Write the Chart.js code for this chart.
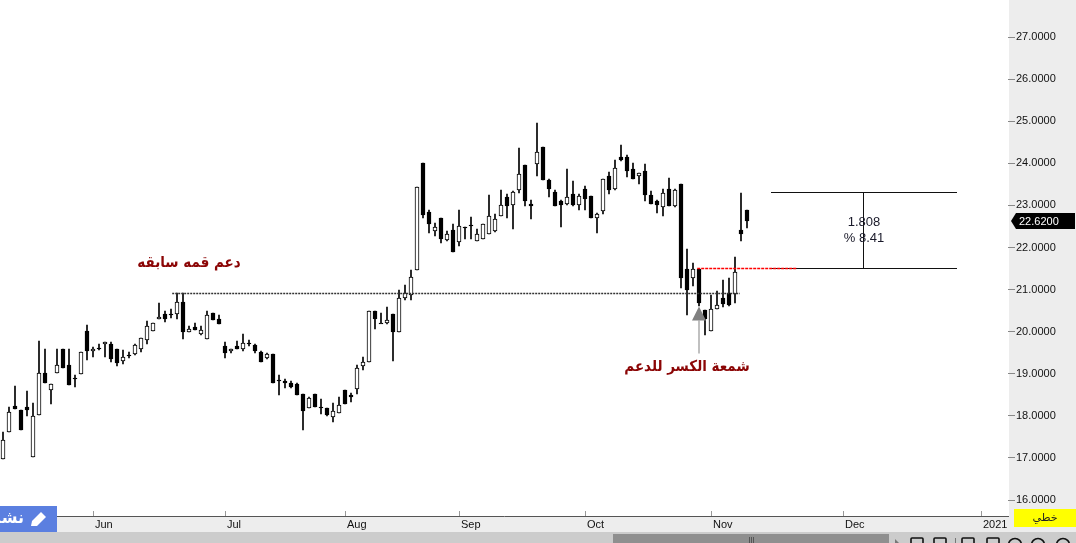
<!DOCTYPE html>
<html><head><meta charset="utf-8">
<style>html,body{margin:0;padding:0;background:#fff;overflow:hidden}canvas{display:block}</style>
<script src="https://cdn.jsdelivr.net/npm/chart.js@4/dist/chart.umd.min.js"></script>
</head><body><canvas id="c" width="1076" height="543"></canvas>
<script>
const opens=[16.97,17.61,18.23,18.14,18.21,17.02,18.01,19.03,18.61,19.01,19.60,19.20,18.90,18.99,20.01,19.55,19.61,19.70,19.70,19.60,19.31,19.45,19.46,19.60,19.81,20.01,20.29,20.41,20.42,20.41,20.70,19.99,20.10,19.95,19.82,20.44,20.29,19.65,19.55,19.65,19.59,19.72,19.68,19.51,19.38,19.46,18.85,18.83,18.78,18.75,18.51,18.18,18.51,18.22,18.18,17.98,18.08,18.61,18.50,18.63,19.19,19.29,20.50,20.21,20.21,20.41,20.00,20.81,20.88,21.47,24.01,22.84,22.40,22.70,22.18,22.41,22.14,22.48,22.53,22.16,22.21,22.33,22.40,22.75,23.19,23.01,23.37,23.96,23.03,23.99,24.39,23.60,23.33,23.10,23.04,23.26,23.01,23.40,23.22,22.71,22.87,23.69,23.40,24.15,24.14,23.86,23.69,23.82,23.25,23.10,22.97,23.40,22.99,23.51,21.49,21.28,21.49,20.51,20.02,20.55,20.80,20.92,20.89,22.41,22.89];
const highs=[17.61,18.21,18.70,18.14,18.60,18.30,19.79,19.60,18.75,19.60,19.60,19.58,18.97,19.51,20.15,19.64,19.70,19.75,19.76,19.60,19.56,19.52,19.71,19.84,20.25,20.20,20.67,20.48,20.53,20.92,20.92,20.13,20.20,20.14,20.48,20.44,20.39,19.75,19.59,19.79,19.94,19.80,19.70,19.55,19.49,19.46,18.97,18.87,18.83,18.78,18.51,18.44,18.51,18.39,18.18,18.30,18.44,18.61,18.54,19.22,19.39,20.50,20.50,20.44,20.58,20.41,20.98,21.11,21.46,23.43,24.01,22.88,22.59,22.70,22.39,22.55,22.89,22.48,22.72,22.43,22.57,23.25,22.79,23.37,23.26,23.34,24.36,23.96,23.13,24.95,24.39,23.62,23.37,23.13,23.86,23.58,23.26,23.46,23.22,22.81,23.62,23.79,24.09,24.43,24.20,24.01,23.78,23.98,23.34,23.13,23.39,23.65,23.39,23.51,21.96,21.63,21.49,20.51,20.87,20.97,21.23,21.27,21.77,23.30,22.89];
const lows=[16.97,17.61,18.17,17.67,17.99,17.02,18.01,18.79,18.29,19.01,19.14,18.74,18.69,18.99,19.33,19.40,19.56,19.40,19.29,19.19,19.24,19.37,19.44,19.52,19.71,20.01,20.29,20.24,20.33,20.31,19.83,19.99,20.03,19.92,19.82,20.28,20.19,19.38,19.49,19.58,19.55,19.66,19.50,19.29,19.35,18.79,18.50,18.67,18.67,18.50,17.67,18.18,18.20,18.04,18.00,17.86,18.08,18.29,18.33,18.53,19.09,19.29,20.07,20.20,20.18,19.31,20.00,20.75,20.75,21.47,22.71,22.34,22.27,22.11,22.15,21.89,22.04,22.20,22.20,22.16,22.21,22.33,22.37,22.75,22.70,22.44,23.29,22.99,22.68,23.70,23.60,23.20,22.99,22.49,23.01,22.99,22.89,22.89,22.71,22.34,22.79,23.27,23.37,24.05,23.67,23.63,23.51,23.10,23.03,22.82,22.75,22.98,22.97,21.04,20.40,21.08,20.61,19.92,20.02,20.55,20.59,20.61,20.68,22.15,22.46];
const closes=[17.42,18.09,18.17,17.67,18.13,17.99,19.01,18.79,18.75,19.20,19.14,18.74,18.87,19.51,19.55,19.60,19.59,19.75,19.36,19.26,19.39,19.43,19.68,19.84,20.13,20.20,20.34,20.31,20.39,20.70,20.00,20.06,20.03,20.03,20.39,20.28,20.19,19.50,19.59,19.59,19.72,19.71,19.55,19.29,19.47,18.79,18.83,18.77,18.69,18.50,18.12,18.42,18.20,18.21,18.03,18.11,18.27,18.29,18.45,19.13,19.27,20.50,20.31,20.20,20.27,20.00,20.79,20.91,21.29,23.43,22.77,22.56,22.49,22.21,22.31,21.89,22.50,22.47,22.52,22.31,22.55,22.76,22.67,23.00,22.99,23.31,23.74,23.11,22.99,24.26,23.60,23.39,22.99,23.01,23.19,23.01,23.23,23.16,22.71,22.79,23.62,23.37,23.88,24.09,23.82,23.63,23.78,23.25,23.03,23.02,23.29,22.98,23.36,21.27,20.99,21.48,20.68,20.30,20.53,20.63,20.65,20.63,21.41,22.32,22.62];
const slotCount=168;
const monthIndex=[15,37,57,76,97,118,140,163];
const monthNames=['Jun','Jul','Aug','Sep','Oct','Nov','Dec','2021'];
const supportLevel=20.92, supportFrom=28.2, supportTo=122.8;
const breakLevel=21.5, breakFrom=115.7, breakTo=132.3;
const measureHigh=23.32, measureFrom=128, measureTo=159, measureMid=143.5;
const measureText=['1.808','% 8.41'], measureTextY=[22.61,22.23];
const supportLabel='دعم قمه سابقه', supportLabelAt=[31,21.63];
const candleLabel='شمعة الكسر للدعم', candleLabelAt=[114,19.16];
const arrowIndex=116, arrowTip=20.60, arrowBase=20.28, arrowTail=19.49;
const labels=Array.from({length:slotCount},(_,i)=>{const m=monthIndex.indexOf(i);return m<0?'':monthNames[m];});

const BLACK='#000', W=1076, H=543, PANEL='#ededed', AXISX=1009, AXISY=516;
const uiFont='"Liberation Sans"';
const snap={id:'snap',afterDatasetsUpdate(chart){
  chart.getSortedVisibleDatasetMetas().forEach(meta=>{
    meta.data.forEach(el=>{
      if(isNaN(el.y)||isNaN(el.base))return;
      let a=Math.round(Math.min(el.y,el.base)),b=Math.round(Math.max(el.y,el.base));
      if(a===b)b=a+1;
      el.y=a;el.base=b;el.height=b-a;
    });
  });
}};
const chrome={id:'chrome',
 beforeDraw(chart){
  const c=chart.ctx;c.save();
  c.fillStyle='#fff';c.fillRect(0,0,W,H);
  c.fillStyle=PANEL;c.fillRect(AXISX,0,W-AXISX,532);c.fillRect(0,AXISY,AXISX,16);
  c.fillStyle='#cccccc';c.fillRect(0,532,W,11);
  c.restore();
 },
 afterDatasetsDraw(chart){
  const c=chart.ctx,x=chart.scales.x,y=chart.scales.y;
  const X=v=>x.getPixelForValue(v),Y=v=>Math.round(y.getPixelForValue(v))+.5;
  c.save();
  c.strokeStyle='#111';c.lineWidth=1;
  c.beginPath();
  c.moveTo(X(measureFrom),Y(measureHigh));c.lineTo(X(measureTo),Y(measureHigh));
  c.moveTo(X(measureFrom),Y(breakLevel)-1);c.lineTo(X(measureTo),Y(breakLevel)-1);
  c.moveTo(Math.round(X(measureMid))-.5,Y(measureHigh));c.lineTo(Math.round(X(measureMid))-.5,Y(breakLevel)-1);
  c.stroke();
  c.setLineDash([2,1]);c.strokeStyle='#333';c.lineWidth=1.5;
  c.beginPath();c.moveTo(X(supportFrom),Y(supportLevel));c.lineTo(X(supportTo),Y(supportLevel));c.stroke();
  c.setLineDash([3,1]);c.strokeStyle='#ff0000';c.lineWidth=1.4;
  c.beginPath();c.moveTo(X(breakFrom),Y(breakLevel)-1);c.lineTo(X(breakTo),Y(breakLevel)-1);c.stroke();
  c.setLineDash([]);
  const ax=X(arrowIndex);
  c.strokeStyle='#c0c0c0';c.lineWidth=2;
  c.beginPath();c.moveTo(ax,Y(arrowBase));c.lineTo(ax,Y(arrowTail));c.stroke();
  c.fillStyle='#808080';
  c.beginPath();c.moveTo(ax,Y(arrowTip));c.lineTo(ax+7,Y(arrowBase));c.lineTo(ax-7,Y(arrowBase));c.closePath();c.fill();
  c.fillStyle='#1a1a2a';c.font='13px '+uiFont;c.textAlign='center';c.textBaseline='middle';
  measureText.forEach((t,i)=>c.fillText(t,X(measureMid),Y(measureTextY[i])));
  c.fillStyle='#8b0505';c.font='bold 15px "DejaVu Sans"';c.direction='rtl';
  [[supportLabel,supportLabelAt],[candleLabel,candleLabelAt]].forEach(([t,p])=>{
    c.save();c.translate(X(p[0]),Y(p[1]));c.scale(0.9,1);c.fillText(t,0,0);c.restore();
  });
  c.direction='ltr';
  c.restore();
 },
 afterDraw(chart){
  const c=chart.ctx,y=chart.scales.y;
  c.save();
  const last=closes[closes.length-1],py=Math.round(y.getPixelForValue(last));
  c.fillStyle='#000';c.beginPath();
  c.moveTo(1011,py);c.lineTo(1016,py-8);c.lineTo(1075,py-8);c.lineTo(1075,py+8);c.lineTo(1016,py+8);c.closePath();c.fill();
  c.fillStyle='#fff';c.font='11px '+uiFont;c.textAlign='left';c.textBaseline='middle';
  c.fillText(last.toFixed(4),1019,py+.5);
  c.fillStyle='#5b7fe0';c.fillRect(0,506,57,26);
  c.save();c.beginPath();c.rect(0,506,57,26);c.clip();
  c.fillStyle='#fff';c.font='bold 16px "DejaVu Sans"';c.textAlign='right';c.direction='rtl';
  c.fillText('نشر',24,519);c.direction='ltr';
  c.restore();
  c.fillStyle='#fff';c.beginPath();
  c.moveTo(31,526);c.lineTo(32,521);c.lineTo(41,512);c.lineTo(46,517);c.lineTo(37,526);c.closePath();c.fill();
  c.fillStyle='#ffff00';c.fillRect(1014,509,62,18);
  c.fillStyle='#222';c.font='11px "DejaVu Sans"';c.textAlign='center';c.direction='rtl';
  c.fillText('خطي',1045,518);c.direction='ltr';
  c.fillStyle='#8f8f8f';c.fillRect(613,534,276,9);
  c.fillStyle='#555';[749,751,753].forEach(px=>c.fillRect(px,537,1,6));
  c.fillStyle='#777';c.beginPath();c.moveTo(895,539);c.lineTo(899,543);c.lineTo(895,543);c.closePath();c.fill();
  c.fillRect(955,538,1,5);
  c.strokeStyle='#111';c.lineWidth=1.6;
  [917,940,968,993].forEach(px=>{c.beginPath();c.moveTo(px-6,543);c.lineTo(px-6,539);c.quadraticCurveTo(px-6,538,px-5,538);c.lineTo(px+5,538);c.quadraticCurveTo(px+6,538,px+6,539);c.lineTo(px+6,543);c.stroke();});
  [1015,1038,1063].forEach(px=>{c.beginPath();c.arc(px,545,6.5,Math.PI,2*Math.PI);c.stroke();});
  c.restore();
 }};

new Chart(document.getElementById('c').getContext('2d'),{
 type:'bar',
 plugins:[snap,chrome],
 data:{labels,datasets:[
  {label:'body',data:opens.map((o,i)=>[o,closes[i]]),grouped:false,maxBarThickness:4,barPercentage:1,categoryPercentage:1,
   backgroundColor:opens.map((o,i)=>closes[i]>o?'#ffffff':BLACK),borderColor:BLACK,borderWidth:1,borderSkipped:false},
  {label:'wick',data:lows.map((l,i)=>[l,highs[i]]),barThickness:1,backgroundColor:BLACK,borderWidth:0}
 ]},
 options:{responsive:false,animation:false,devicePixelRatio:1,
  layout:{padding:0},
  plugins:{legend:{display:false},tooltip:{enabled:false},title:{display:false}},
  scales:{
   x:{type:'category',offset:true,
    afterBuildTicks(s){s.ticks=s.ticks.filter(t=>monthIndex.includes(t.value));},
    afterFit(s){s.height=H-AXISY;s.paddingLeft=0;s.paddingRight=0;},
    border:{color:'#555',width:1},
    grid:{offset:false,drawOnChartArea:false,tickLength:-5,tickColor:'#999',tickWidth:1},
    ticks:{autoSkip:false,maxRotation:0,minRotation:0,align:'start',labelOffset:2,padding:7,color:'#111',font:{family:uiFont,size:11},
     callback(v){return labels[v];}}},
   y:{type:'linear',position:'right',min:15.622,max:27.879,
    afterFit(s){s.width=68;s.paddingTop=0;s.paddingBottom=0;},
    border:{display:false},
    grid:{drawOnChartArea:false,tickLength:7,tickColor:'#888',tickWidth:1},
    ticks:{stepSize:1,includeBounds:false,padding:1,color:'#111',font:{family:uiFont,size:11},callback(v){return Number(v).toFixed(4);}}}
  }}
});
</script></body></html>
